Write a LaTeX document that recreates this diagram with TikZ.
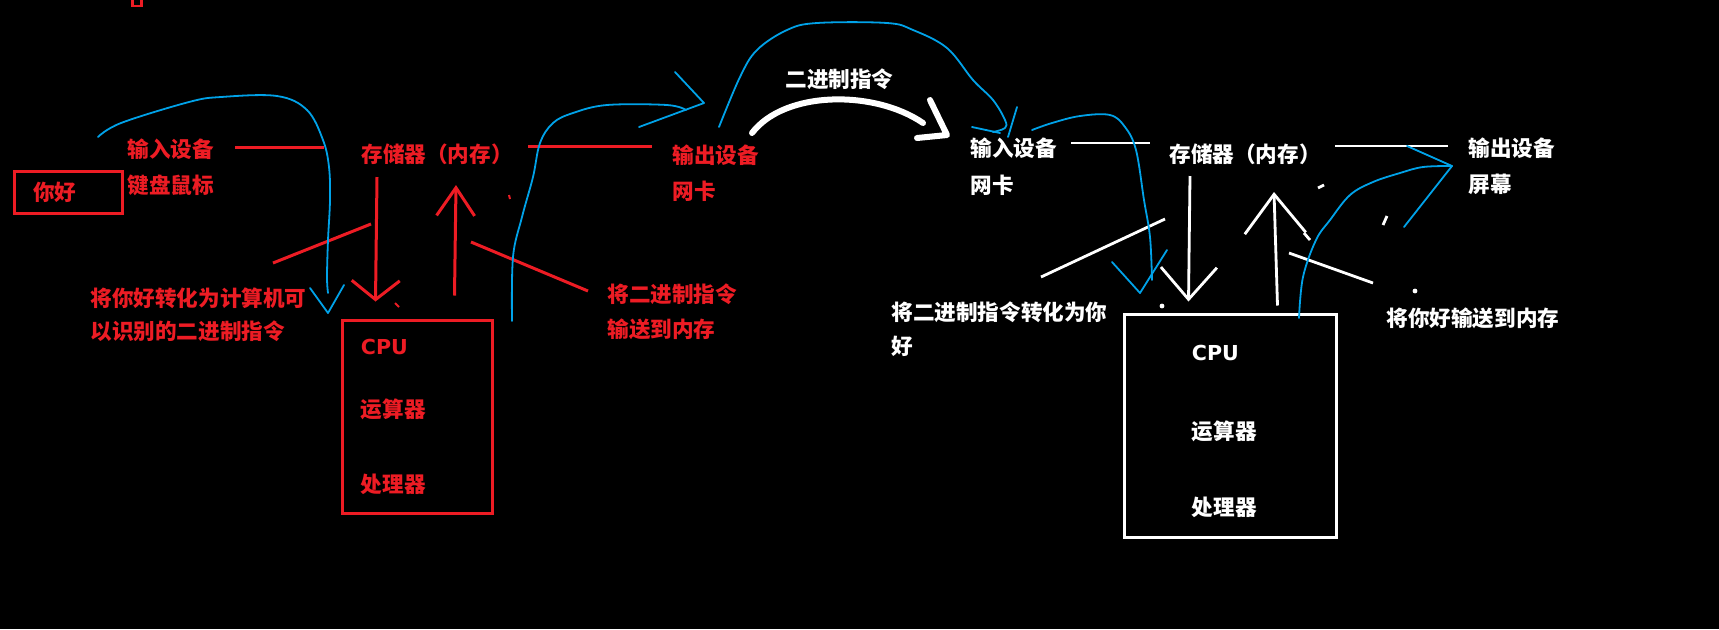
\documentclass[tikz,border=0pt]{standalone}
\usepackage{fontspec}
\setmainfont{Noto Sans CJK SC}
\newfontfamily\chipfont{DejaVu Sans}
\usetikzlibrary{arrows.meta,positioning}
\definecolor{PaintRed}{HTML}{ED1C24}
\definecolor{PaintBlue}{HTML}{00A2E8}

\begin{document}
\begin{tikzpicture}[x=0.5pt, y=-0.5pt,
  redtext/.style={text=PaintRed, font=\bfseries\fontsize{10.8}{13}\selectfont,
    inner sep=0pt, anchor=west},
  whitetext/.style={redtext, text=white},
  chiplabel/.style={font=\chipfont\bfseries\fontsize{10.3}{13}\selectfont},
  redline/.style={draw=PaintRed, line width=1.5pt},
  whiteline/.style={draw=white, line width=1.4pt},
  handflow/.style={draw=PaintBlue, line width=0.9pt, line join=round, line cap=round},
  redbox/.style={draw=PaintRed, line width=1.5pt, inner sep=0pt},
  whitebox/.style={draw=white, line width=1.5pt, inner sep=0pt}
]
\fill[black] (0,0) rectangle (1719,629);
\useasboundingbox (0,0) rectangle (1719,629);

% left half: sender (red)
\draw[draw=PaintRed, line width=1.2pt] (132.5,-5) rectangle (141.5,5.8);
\node[redbox, minimum width=54pt, minimum height=21pt, text width=35pt, inner xsep=9.5pt,
  text=PaintRed, font=\bfseries\fontsize{10.8}{13}\selectfont] (hello) at (68,192) {你好};
\node[redtext] (inL) at (127,149) {输入设备};
\node[redtext, below=18pt of inL.west, anchor=west] (inLb) {键盘鼠标};
\node[redtext] (memL) at (361,154) {存储器（内存）};
\node[redtext] (outL) at (672,155) {输出设备};
\node[redtext, below=18pt of outL.west, anchor=west] (outLb) {网卡};
\node[redbox, minimum width=75pt, minimum height=96.5pt] (cpuL) at (417,416.5) {};
\node[redtext, chiplabel] (cpuLa) at ([shift={(20,28)}]cpuL.north west) {CPU};
\node[redtext] (cpuLb) at ([shift={(20,91)}]cpuL.north west) {运算器};
\node[redtext] (cpuLc) at ([shift={(20,166)}]cpuL.north west) {处理器};
\node[redtext] (noteL1) at (90,298) {将你好转化为计算机可};
\node[redtext, below=16.5pt of noteL1.west, anchor=west] (noteL1b) {以识别的二进制指令};
\node[redtext] (noteL2) at (607,294) {将二进制指令};
\node[redtext, below=17.5pt of noteL2.west, anchor=west] (noteL2b) {输送到内存};

\draw[redline] ([shift={(108,-2)}]inL.west) -- ([shift={(-37,-7)}]memL.west);
\draw[redline] ([shift={(167,-8)}]memL.west) -- ([shift={(-20,-9)}]outL.west);
\draw[redline, -{Straight Barb[length=9.5pt, width=24pt]}]
  ([shift={(16,23)}]memL.west) -- ([shift={(35,-17)}]cpuL.north west);
\draw[redline, -{Straight Barb[length=14pt, width=19pt]}]
  ([shift={(114,-23)}]cpuL.north west) -- ([shift={(95,31)}]memL.west);
\draw[redline] ([shift={(183,-35)}]noteL1.west) -- ([shift={(10,70)}]memL.west);
\draw[redline] ([shift={(110,88)}]memL.west) -- ([shift={(-19,-3)}]noteL2.west);
\draw[draw=PaintRed, line width=1pt] (395,303) -- (399,307);
\draw[draw=PaintRed, line width=1pt] (509,195) -- (510,199);

% right half: receiver (white)
\node[whitetext] (bits) at (785,79) {二进制指令};
\node[whitetext] (inR) at (970,148) {输入设备};
\node[whitetext, below=18.5pt of inR.west, anchor=west] (inRb) {网卡};
\node[whitetext] (memR) at (1169,154) {存储器（内存）};
\node[whitetext] (outR) at (1468,148) {输出设备};
\node[whitetext, below=18pt of outR.west, anchor=west] (outRb) {屏幕};
\node[whitebox, minimum width=106pt, minimum height=111.5pt] (cpuR) at (1230,425.5) {};
\node[whitetext, chiplabel] (cpuRa) at ([shift={(69,40)}]cpuR.north west) {CPU};
\node[whitetext] (cpuRb) at ([shift={(69,119)}]cpuR.north west) {运算器};
\node[whitetext] (cpuRc) at ([shift={(69,195)}]cpuR.north west) {处理器};
\node[whitetext] (noteR1) at (891,312) {将二进制指令转化为你};
\node[whitetext, below=17pt of noteR1.west, anchor=west] (noteR1b) {好};
\node[whitetext] (noteR2) at (1386,318) {将你好输送到内存};

\draw[white, line width=3pt, line cap=round] ([shift={(80,-22)}]outL.west)
  .. controls (785,90) and (875,90) .. ([shift={(-47,-25)}]inR.west);
\draw[white, line width=3pt, line cap=round, line join=round]
  ([shift={(-40,-48)}]inR.west) -- ([shift={(-23,-13)}]inR.west) -- ([shift={(-53,-10)}]inR.west);
\draw[whiteline] ([shift={(101,-5)}]inR.west) -- ([shift={(-19,-11)}]memR.west);
\draw[whiteline] ([shift={(166,-8)}]memR.west) -- ([shift={(-20,-2)}]outR.west);
\draw[whiteline, -{Straight Barb[length=16pt, width=28pt]}]
  ([shift={(21,22)}]memR.west) -- ([shift={(66,-11)}]cpuR.north west);
\draw[whiteline, -{Straight Barb[length=19.5pt, width=30.5pt]}]
  ([shift={(155,-7)}]cpuR.north west) -- ([shift={(105,38)}]memR.west);
\draw[whiteline] ([shift={(150,-35)}]noteR1.west) -- ([shift={(-4,65)}]memR.west);
\draw[whiteline] ([shift={(120,99)}]memR.west) -- ([shift={(-13,-35)}]noteR2.west);
\draw[whiteline] (1318,188) -- (1324,185);
\draw[whiteline] (1383,225) -- (1387,216);
\draw[whiteline] (1304,233) -- (1310,240);
\fill[white] (1415,291) circle (1.2pt);
\fill[white] (1162,306) circle (1.2pt);

% blue pen: how the data travels
\draw[handflow] plot[smooth, tension=0.6] coordinates {(98,137) (121,123) (189,102) (221,97)
  (277,96) (307,110) (323,140) (329,167) (330,200) (328,240) (327,277) (328,293)};
\draw[handflow] (310,288) -- (328,313) -- (344,285);
\draw[handflow] plot[smooth, tension=0.6] coordinates {(512,321) (513,257) (522,217) (533,177)
  (540,143) (553,123) (573,113) (607,105) (667,105) (686,110)};
\draw[handflow] (675,72) -- (704,103) -- (639,127);
\draw[handflow] plot[smooth, tension=0.6] coordinates {(719,127) (740,77) (757,50) (787,30)
  (817,23) (887,23) (913,30) (947,48) (973,80) (993,100) (1005,120) (1005,128) (993,132)};
\draw[handflow] (972,127) -- (1000,133);
\draw[handflow] (1017,107) -- (1008,137);
\draw[handflow] plot[smooth, tension=0.6] coordinates {(1032,130) (1052,123) (1080,116)
  (1110,115) (1125,127) (1136,150) (1144,200) (1150,237) (1152,280)};
\draw[handflow] (1112,262) -- (1140,293) -- (1167,250);
\draw[handflow] plot[smooth, tension=0.6] coordinates {(1299,318) (1303,277) (1316,240)
  (1330,220) (1350,195) (1373,182) (1400,173) (1423,167) (1452,166)};
\draw[handflow] (1407,146) -- (1452,166) -- (1404,227);
\end{tikzpicture}
\end{document}
